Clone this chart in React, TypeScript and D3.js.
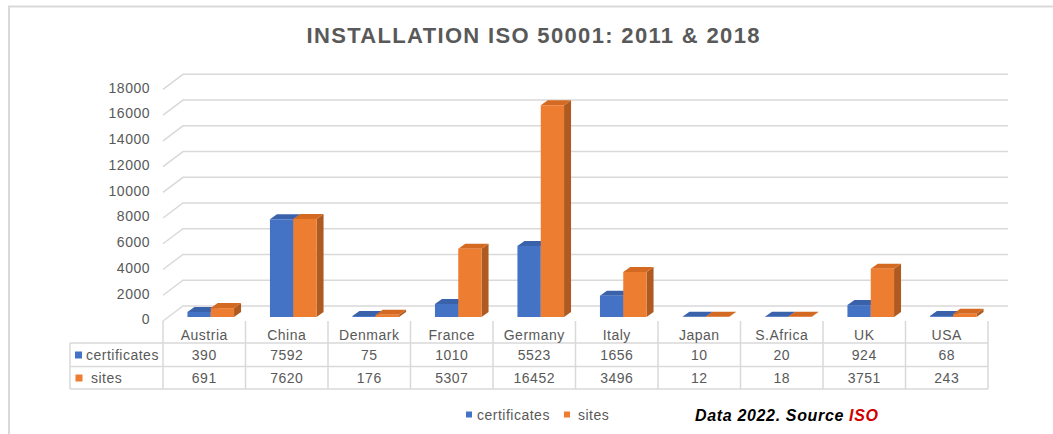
import React from "react";
import * as d3 from "d3";

const categories = ["Austria", "China", "Denmark", "France", "Germany", "Italy", "Japan", "S.Africa", "UK", "USA"];
const certificates = [390, 7592, 75, 1010, 5523, 1656, 10, 20, 924, 68];
const sites = [691, 7620, 176, 5307, 16452, 3496, 12, 18, 3751, 243];
const yTicks = [0, 2000, 4000, 6000, 8000, 10000, 12000, 14000, 16000, 18000];
const seriesNames = ["certificates", "sites"];
const title = "INSTALLATION ISO 50001: 2011 & 2018";

const W = 1053;
const H = 434;
const FONT = "'Liberation Sans', Arial, sans-serif";
const GRID = "#d9d9d9";
const TXT = "#595959";

const colors = [
  { front: "#4472c4", top: "#3a62ab", side: "#2f5597" },
  { front: "#ed7d31", top: "#d46a22", side: "#ae5a21" },
];

export default function App() {
  const x = d3.scaleBand<string>().domain(categories).range([163, 988]).padding(0);
  const yBack = d3.scaleLinear().domain([0, 18000]).range([306, 74.3]);
  const yBar = d3.scaleLinear().domain([0, 18000]).range([317, 85.3]);
  const FDX = -20, FDY = 15;
  const backLeft = 183, backRight = 1008;
  const bw = 23.3, shift = 6.5, ddx = 7, ddy = -5;

  const series = [certificates, sites];

  const rowY = [335, 355, 378];
  const hLines = [343, 366.5, 389];
  const colBounds = [...categories.map((c) => x(c) as number), 988];

  return (
    <svg width={W} height={H} style={{ display: "block", position: "absolute", left: 0, top: 0 }} fontFamily={FONT}>
      <rect x={0} y={0} width={W} height={H} fill="#fff" />
      <path d={`M9,${H + 5} L9,6.5 L${W + 5},6.5`} fill="none" stroke={GRID} strokeWidth={2} />
      <text x={533} y={42.5} textAnchor="middle" fontSize={22} fontWeight="bold" fill={TXT} textLength={453} lengthAdjust="spacing">
        {title}
      </text>

      {yTicks.map((t) => {
        const yb = yBack(t);
        return (
          <g key={t}>
            <path d={`M${backLeft + FDX},${yb + FDY} L${backLeft},${yb} L${backRight},${yb}`} fill="none" stroke={GRID} strokeWidth={1.5} />
            <text x={150} y={yb + FDY - 1.5} dy="0.35em" textAnchor="end" fontSize={14} letterSpacing={0.5} fill={TXT}>
              {t}
            </text>
          </g>
        );
      })}

      {categories.map((c, i) => {
        const x0 = (x(c) as number) + (x.bandwidth() - 2 * bw) / 2 + shift;
        return (
          <g key={c}>
            {series.map((s, k) => {
              const xl = x0 + k * bw;
              const xr = xl + bw;
              const yt = yBar(s[i]);
              const yb = yBar(0);
              const col = colors[k];
              return (
                <g key={k}>
                  <path d={`M${xr},${yb} L${xr + ddx},${yb + ddy} L${xr + ddx},${yt + ddy} L${xr},${yt} Z`} fill={col.side} />
                  <path d={`M${xl},${yt} L${xl + ddx},${yt + ddy} L${xr + ddx},${yt + ddy} L${xr},${yt} Z`} fill={col.top} />
                  <rect x={xl} y={yt} width={bw} height={yb - yt} fill={col.front} />
                </g>
              );
            })}
          </g>
        );
      })}

      {colBounds.map((b, i) => (
        <line key={i} x1={b} x2={b} y1={321} y2={389} stroke={GRID} strokeWidth={1.5} />
      ))}
      <line x1={70} x2={70} y1={343} y2={389} stroke={GRID} strokeWidth={1.5} />
      {hLines.map((h, i) => (
        <line key={i} x1={70} x2={988} y1={h} y2={h} stroke={GRID} strokeWidth={1.5} />
      ))}
      {categories.map((c, i) => {
        const cx = (x(c) as number) + x.bandwidth() / 2;
        return (
          <g key={c} fontSize={14} letterSpacing={0.5} fill={TXT} textAnchor="middle">
            <text x={cx} y={rowY[0]} dy="0.35em">{c}</text>
            <text x={cx} y={rowY[1]} dy="0.35em">{certificates[i]}</text>
            <text x={cx} y={rowY[2]} dy="0.35em">{sites[i]}</text>
          </g>
        );
      })}
      <rect x={75} y={351.5} width={7} height={7} fill={colors[0].front} />
      <text x={86} y={rowY[1]} dy="0.35em" fontSize={14} letterSpacing={0.5} fill={TXT}>{seriesNames[0]}</text>
      <rect x={75.5} y={374.5} width={7} height={7} fill={colors[1].front} />
      <text x={91} y={rowY[2]} dy="0.35em" fontSize={14} letterSpacing={0.5} fill={TXT}>{seriesNames[1]}</text>

      <rect x={466} y={411.5} width={6} height={6} fill={colors[0].front} />
      <text x={477} y={415} dy="0.35em" fontSize={14} letterSpacing={0.5} fill={TXT}>{seriesNames[0]}</text>
      <rect x={564} y={411.5} width={6} height={6} fill={colors[1].front} />
      <text x={578} y={415} dy="0.35em" fontSize={14} letterSpacing={0.5} fill={TXT}>{seriesNames[1]}</text>

      <text x={695} y={415} dy="0.35em" fontSize={16} fontWeight="bold" fontStyle="italic" fill="#000" textLength={183} lengthAdjust="spacing">
        Data 2022. Source <tspan fill="#d00000">ISO</tspan>
      </text>
    </svg>
  );
}
